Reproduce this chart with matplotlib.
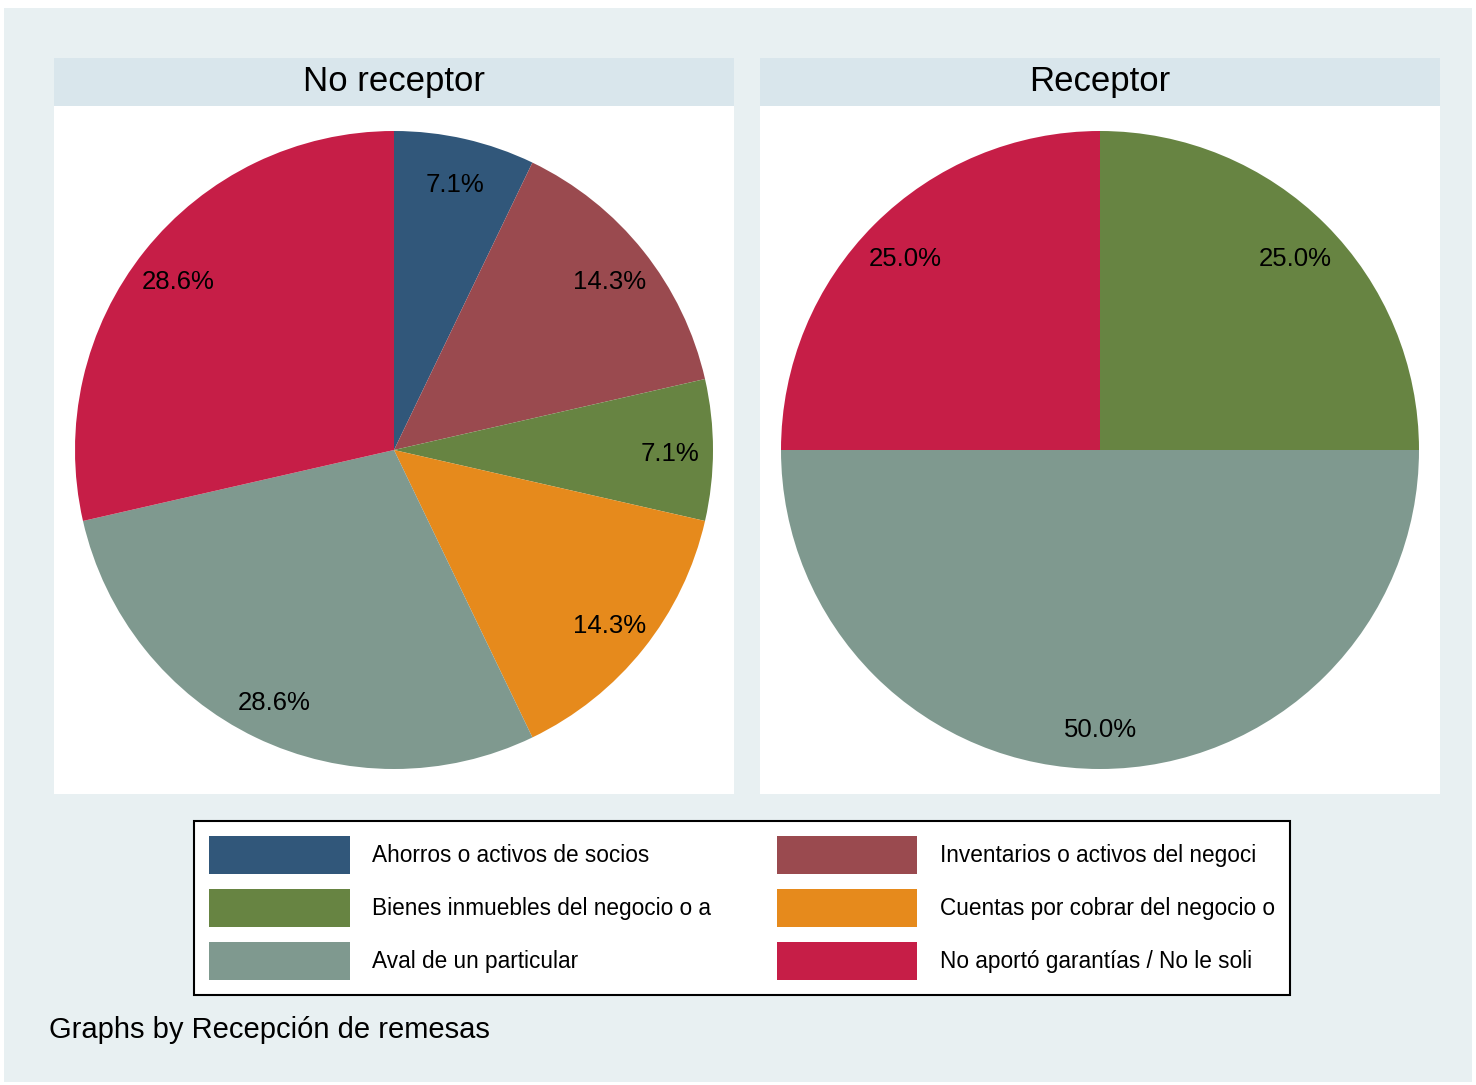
import matplotlib.pyplot as plt
import matplotlib.transforms as mtransforms
from matplotlib.patches import Rectangle, Patch

plt.rcParams['font.family'] = ['Liberation Sans', 'DejaVu Sans']

# categories (legend order)
categories = ["Ahorros o activos de socios",
              "Inventarios o activos del negoci",
              "Bienes inmuebles del negocio o a",
              "Cuentas por cobrar del negocio o",
              "Aval de un particular",
              "No aportó garantías / No le soli"]
colors = ["#31577A", "#9A4A4F", "#678442", "#E68A1C", "#7F998F", "#C61E47"]

# counts per group
panel_titles = ["No receptor", "Receptor"]
counts_no = [1, 2, 1, 2, 4, 4]
counts_si = [0, 0, 1, 0, 2, 1]

W, H = 1476, 1085
fig = plt.figure(figsize=(W / 100, H / 100), dpi=100)
fig.patch.set_facecolor("white")
# graph region
fig.patches.append(Rectangle((4 / W, 1 - 1082 / H), 1468 / W, 1074 / H,
                             transform=fig.transFigure, facecolor="#E8F0F2",
                             edgecolor="none", zorder=-5))

bg_strip = "#D9E6EC"
lefts = [54, 760]
for k, (title, counts) in enumerate(zip(panel_titles, [counts_no, counts_si])):
    x0 = lefts[k]
    ax = fig.add_axes([x0 / W, 1 - 794 / H, 680 / W, 688 / H])
    vals = [c for c in counts if c > 0]
    cols = [colors[i] for i, c in enumerate(counts) if c > 0]
    wedges, texts, autotexts = ax.pie(vals, colors=cols, startangle=90, counterclock=False,
                                      autopct="%1.1f%%", pctdistance=0.865,
                                      textprops={"fontsize": 18.5, "color": "black"},
                                      wedgeprops={"linewidth": 0})
    shift = mtransforms.ScaledTranslation(0, -4 / 100, fig.dpi_scale_trans)
    for t in autotexts:
        t.set_transform(t.get_transform() + shift)
    ax.set_frame_on(True)
    ax.set_facecolor("white")
    ax.set_aspect("auto")
    ax.set_xlim(-340 / 319, 340 / 319)
    ax.set_ylim(-344 / 319, 344 / 319)
    ax.set_xticks([])
    ax.set_yticks([])
    for s in ax.spines.values():
        s.set_visible(False)

    sax = fig.add_axes([x0 / W, 1 - 106 / H, 680 / W, 48 / H])
    sax.set_facecolor(bg_strip)
    sax.set_xticks([])
    sax.set_yticks([])
    for s in sax.spines.values():
        s.set_visible(False)
    sax.text(0.5, 0.5, title, ha="center", va="center", fontsize=25,
             transform=sax.transAxes)

# legend filled column-wise, so reorder to match rows
order = [0, 2, 4, 1, 3, 5]
handles = [Patch(facecolor=colors[i], edgecolor="none") for i in order]
labels = [categories[i] for i in order]
leg = fig.legend(handles, labels, ncol=2, loc="upper left",
                 bbox_to_anchor=(194 / W, 1 - 821 / H), fontsize=16.3,
                 handlelength=6.2, handleheight=2.2, handletextpad=1.0,
                 columnspacing=2.9, labelspacing=0.66, borderpad=0.68,
                 borderaxespad=0, fancybox=False, frameon=True, framealpha=1)
leg.get_frame().set_edgecolor("black")
leg.get_frame().set_linewidth(1.5)
leg.get_frame().set_facecolor("white")

fig.text(49 / W, 1 - 1030 / H, "Graphs by Recepción de remesas", fontsize=21,
         ha="left", va="center")

fig.savefig("out.png", dpi=100, facecolor=fig.get_facecolor())
